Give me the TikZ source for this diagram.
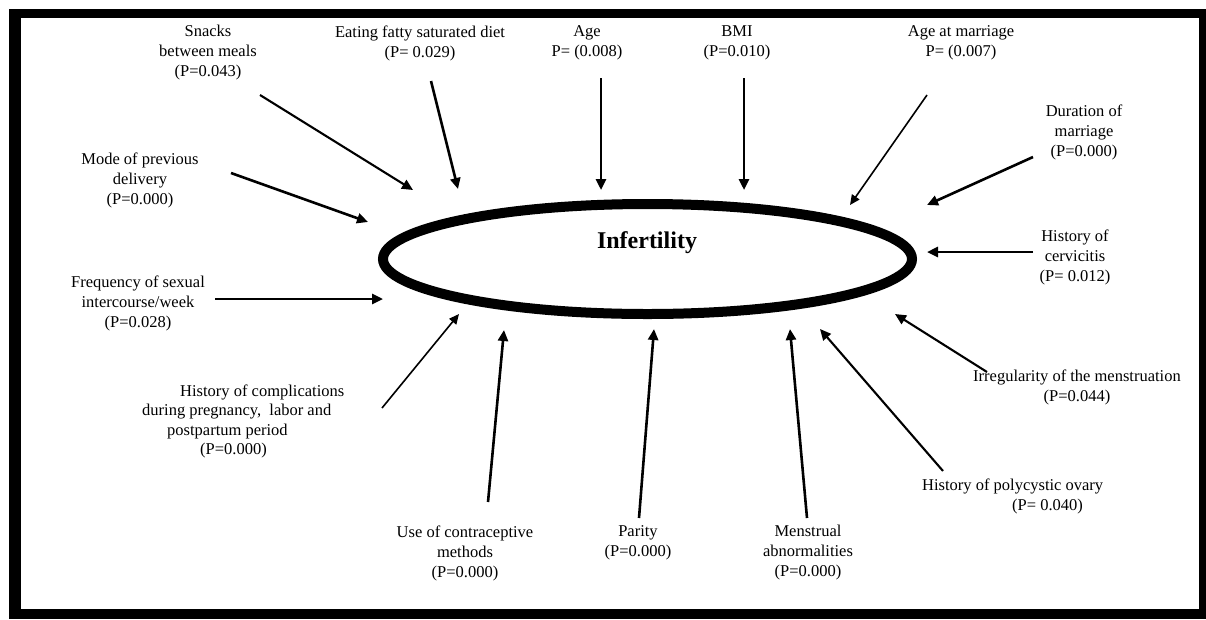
\documentclass[tikz,border=0pt]{standalone}
\usepackage{fontspec}
\setmainfont{Liberation Serif}
\usetikzlibrary{arrows.meta,shapes.geometric}
\begin{document}
\begin{tikzpicture}[x=1pt,y=-1pt,
  lbl/.style={align=center, inner sep=0pt, font=\fontsize{16.5}{20}\selectfont},
  lbll/.style={align=left, inner sep=0pt, font=\fontsize{16.5}{19.5}\selectfont},
  arr/.style={line width=2.6pt, -{Triangle[length=11pt,width=10pt]}},
  thinarr/.style={line width=1.6pt, -{Triangle[length=10pt,width=9pt]}},
  midarr/.style={line width=2.1pt, -{Triangle[length=11pt,width=10pt]}}]
\useasboundingbox (0,0) rectangle (1206,619);
% frame
\fill[black] (9,9) rectangle (1206,619);
\fill[white] (21,18) rectangle (1199,609);
% central ellipse
\node[ellipse, draw, line width=10pt, minimum width=529pt, minimum height=110pt, inner sep=0pt] (ell) at (647.5,259) {};
\node[inner sep=0pt, font=\fontsize{24}{28}\selectfont\bfseries] (inftxt) at (647,243) {Infertility};
% labels
\node[lbl] (snacks) at (208,52.5) {Snacks\\between meals\\(P=0.043)};
\node[lbl] (fatty) at (420,43) {Eating fatty saturated diet\\(P= 0.029)};
\node[lbl] (age) at (587,43) {Age\\P= (0.008)};
\node[lbl] (bmi) at (737,43) {BMI\\(P=0.010)};
\node[lbl] (agem) at (961,43) {Age at marriage\\P= (0.007)};
\node[lbl] (dur) at (1084,132) {Duration of\\marriage\\(P=0.000)};
\node[lbl] (mode) at (140,180) {Mode of previous\\delivery\\(P=0.000)};
\node[lbl] (freq) at (138,303) {Frequency of sexual\\intercourse/week\\(P=0.028)};
\node[lbl] (cerv) at (1075,257) {History of\\cervicitis\\(P= 0.012)};
\node[lbl] (irr) at (1077,387) {Irregularity of the menstruation\\(P=0.044)};
\node[lbll, anchor=west] (poly) at (922,496.5) {History of polycystic ovary\\\hspace*{90pt}(P= 0.040)};
\node[lbll, anchor=west] (comp) at (142,421.5) {\hspace*{38pt}History of complications\\during pregnancy,\ \ labor and\\\hspace*{25pt}postpartum period\\\hspace*{58pt}(P=0.000)};
\node[lbl] (contra) at (465,553) {Use of contraceptive\\methods\\(P=0.000)};
\node[lbl] (parity) at (638,543) {Parity\\(P=0.000)};
\node[lbl] (menst) at (808,553) {Menstrual\\abnormalities\\(P=0.000)};
% connector end points
\coordinate (snacksT) at (260,95);   \coordinate (snacksH) at (413,190);
\coordinate (fattyT) at (431,81);    \coordinate (fattyH) at (458,189);
\coordinate (ageT) at (601,78);      \coordinate (ageH) at (601,190);
\coordinate (bmiT) at (744,78);      \coordinate (bmiH) at (744,190);
\coordinate (agemT) at (927,95);     \coordinate (agemH) at (850,205);
\coordinate (durT) at (1033,157);    \coordinate (durH) at (927,205);
\coordinate (cervT) at (1033,252);   \coordinate (cervH) at (927,252);
\coordinate (irrT) at (987,372);     \coordinate (irrH) at (895,314);
\coordinate (polyT) at (943,471);    \coordinate (polyH) at (820,329);
\coordinate (menstT) at (807,518);   \coordinate (menstH) at (790,329);
\coordinate (parityT) at (639,518);  \coordinate (parityH) at (654,329);
\coordinate (contraT) at (488,502);  \coordinate (contraH) at (504,330);
\coordinate (compT) at (382,408);    \coordinate (compH) at (459,314);
\coordinate (freqT) at (215,299);    \coordinate (freqH) at (383,299);
\coordinate (modeT) at (231,173);    \coordinate (modeH) at (368,222);
% connectors
\draw[midarr] (snacksT) -- (snacksH);
\draw[arr] (fattyT) -- (fattyH);
\draw[arr] (ageT) -- (ageH);
\draw[arr] (bmiT) -- (bmiH);
\draw[thinarr] (agemT) -- (agemH);
\draw[arr] (durT) -- (durH);
\draw[arr] (cervT) -- (cervH);
\draw[midarr] (irrT) -- (irrH);
\draw[midarr] (polyT) -- (polyH);
\draw[arr] (menstT) -- (menstH);
\draw[arr] (parityT) -- (parityH);
\draw[arr] (contraT) -- (contraH);
\draw[thinarr] (compT) -- (compH);
\draw[arr] (freqT) -- (freqH);
\draw[arr] (modeT) -- (modeH);
\end{tikzpicture}
\end{document}
